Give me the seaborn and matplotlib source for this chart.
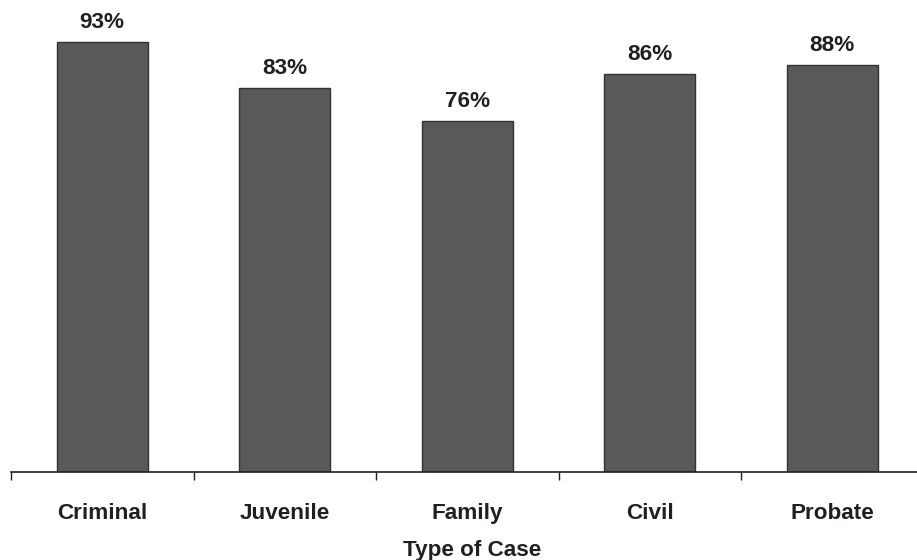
import matplotlib
matplotlib.use("Agg")
import matplotlib.pyplot as plt
import seaborn as sns
import pandas as pd
import numpy as np

categories = ["Criminal", "Juvenile", "Family", "Civil", "Probate"]
values = [93, 83, 76, 86, 88]
value_labels = ["93%", "83%", "76%", "86%", "88%"]

sns.set_theme(style="white")
plt.rcParams['font.family'] = ['Liberation Sans', 'DejaVu Sans']

df = pd.DataFrame({"case": categories, "pct": values})

fig = plt.figure(figsize=(9.17, 5.6), dpi=100)
ax = fig.add_axes([11/917, 88/560, 912.5/917, 472/560])

sns.barplot(data=df, x="case", y="pct", ax=ax, color="#58595B", saturation=1,
            width=0.5, edgecolor="#333333", linewidth=1.0)

ax.set_xlim(-0.5, len(categories) - 0.5)
ax.set_ylim(0, 102.07)

FS = 16.2
for p, lab in zip(ax.patches, value_labels):
    ax.annotate(lab, (p.get_x() + p.get_width() / 2, p.get_height()),
                xytext=(0, 9), textcoords="offset pixels", ha="center", va="bottom",
                fontsize=FS, fontweight="bold", color="#231F20")

for s in ["top", "right", "left"]:
    ax.spines[s].set_visible(False)
ax.spines["bottom"].set_color("#231F20")
ax.spines["bottom"].set_linewidth(1.2)
ax.set_yticks([])
ax.set_ylabel("")

ax.set_xticks(range(len(categories)))
ax.set_xticklabels(categories, fontsize=FS, fontweight="bold", color="#231F20")
ax.set_xticks(np.arange(-0.5, len(categories), 1.0), minor=True)
ax.tick_params(axis="x", which="major", length=0, pad=22)
ax.tick_params(axis="x", which="minor", length=6, width=1.0, color="#231F20", direction="out", bottom=True)

ax.set_xlabel("Type of Case", fontsize=FS, fontweight="bold", color="#231F20")
ax.xaxis.set_label_coords((472 - 11) / 912.5, -0.145)
ax.xaxis.label.set_va("top")

fig.savefig("out.png", dpi=100)
